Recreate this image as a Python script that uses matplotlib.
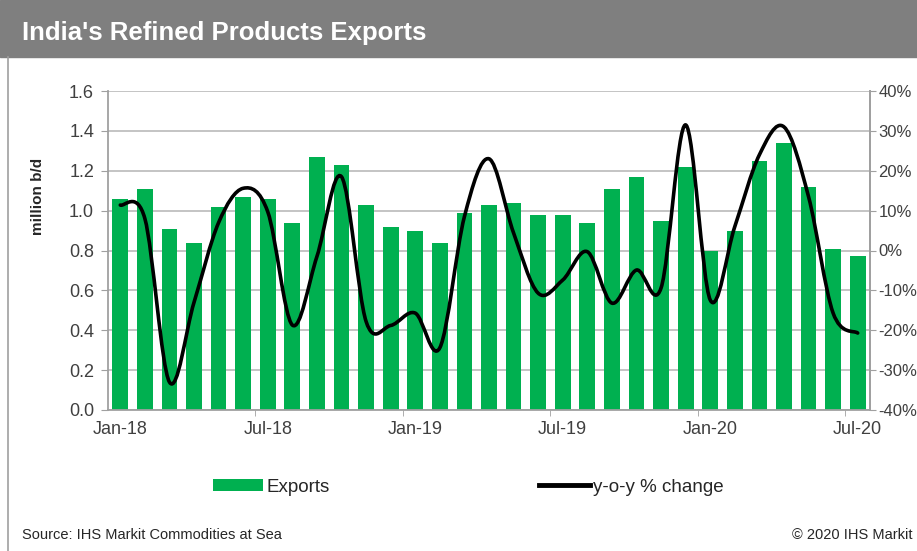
import numpy as np
import matplotlib
matplotlib.use("Agg")
import matplotlib.pyplot as plt
from matplotlib.path import Path
from matplotlib.patches import PathPatch, Patch, Rectangle
from matplotlib.lines import Line2D
from matplotlib.ticker import FuncFormatter

plt.rcParams["font.family"] = ["Liberation Sans", "DejaVu Sans"]

# Monthly exports (million b/d) and y-o-y change (%), Jan-18 .. Jul-20
months = ["Jan-18", "Feb-18", "Mar-18", "Apr-18", "May-18", "Jun-18",
          "Jul-18", "Aug-18", "Sep-18", "Oct-18", "Nov-18", "Dec-18",
          "Jan-19", "Feb-19", "Mar-19", "Apr-19", "May-19", "Jun-19",
          "Jul-19", "Aug-19", "Sep-19", "Oct-19", "Nov-19", "Dec-19",
          "Jan-20", "Feb-20", "Mar-20", "Apr-20", "May-20", "Jun-20",
          "Jul-20"]
exports = [1.06, 1.11, 0.91, 0.84, 1.02, 1.07, 1.06, 0.94, 1.27, 1.23,
           1.03, 0.92, 0.90, 0.84, 0.99, 1.03, 1.04, 0.98, 0.98, 0.94,
           1.11, 1.17, 0.95, 1.22, 0.80, 0.90, 1.25, 1.34, 1.12, 0.81,
           0.77]
yoy = [11.4, 8.0, -33.0, -13.0, 7.0, 15.6, 9.7, -18.7, -1.5, 18.5,
       -17.8, -18.8, -15.7, -24.4, 8.5, 23.0, 4.4, -10.7, -7.4, -0.3,
       -13.2, -4.9, -9.4, 31.5, -12.4, 6.0, 24.0, 31.0, 13.5, -15.7,
       -20.7]
label_months = ["Jan-18", "Jul-18", "Jan-19", "Jul-19", "Jan-20", "Jul-20"]

green = "#00b050"
grid_grey = "#bfbfbf"
text_grey = "#404040"

fig = plt.figure(figsize=(9.17, 5.51), dpi=100)

# header band + left frame line
fig.patches.append(Rectangle((0, 1 - 57 / 551), 1, 57 / 551, transform=fig.transFigure,
                             color="#7f7f7f", zorder=0))
fig.add_artist(Line2D([8 / 917, 8 / 917], [0, 1 - 57 / 551], transform=fig.transFigure,
                      color="#a0a0a0", lw=1.2))
fig.text(22 / 917, 1 - 33 / 551, "India's Refined Products Exports", color="white",
         fontsize=18.5, fontweight="bold", va="center", ha="left")

ax = fig.add_axes([108 / 917, 1 - 410 / 551, 762 / 917, 319 / 551])
x = np.arange(len(months))
ax.bar(x, exports, width=0.64, color=green, zorder=2)
ax.set_xlim(-0.5, len(months) - 0.5)
ax.set_ylim(0, 1.6)
ax.set_yticks(np.arange(0, 1.61, 0.2))
ax.yaxis.set_major_formatter(FuncFormatter(lambda v, _: f"{v:.1f}"))
ax.set_axisbelow(True)
ax.grid(axis="y", color=grid_grey, lw=1.3)
ax.set_xticks([months.index(m) for m in label_months])
ax.set_xticklabels(label_months)
ax.set_xticks([months.index(m) - 0.5 for m in label_months[1:]], minor=True)
ax.tick_params(axis="x", which="major", length=0, pad=8, labelsize=13, labelcolor=text_grey)
ax.tick_params(axis="x", which="minor", length=4, color="#a0a0a0", direction="out")
ax.tick_params(axis="y", length=5, color="#a0a0a0", labelsize=13, labelcolor=text_grey, pad=5)
ax.spines["top"].set_visible(False)
for s in ["left", "bottom", "right"]:
    ax.spines[s].set_color("#a0a0a0")
    ax.spines[s].set_linewidth(1.3)
fig.text(38 / 917, 1 - 196 / 551, "million b/d", rotation=90, fontsize=11,
         fontweight="bold", color="#262626", ha="center", va="center")

ax2 = ax.twinx()
ax2.set_ylim(-40, 40)
ax2.set_yticks(np.arange(-40, 41, 10))
ax2.yaxis.set_major_formatter(FuncFormatter(lambda v, _: f"{v:.0f}%"))
ax2.tick_params(axis="y", length=4, color="#a0a0a0", labelsize=12, labelcolor=text_grey, pad=2)
for s in ["top", "left", "bottom"]:
    ax2.spines[s].set_visible(False)
ax2.spines["right"].set_color("#a0a0a0")
ax2.spines["right"].set_linewidth(1.3)

# smoothed y-o-y line as cubic Bezier segments (Catmull-Rom control points)
pts = np.column_stack([x, yoy]).astype(float)
ext = np.vstack([pts[0], pts, pts[-1]])
verts = [pts[0]]
codes = [Path.MOVETO]
for i in range(len(pts) - 1):
    p0, p1, p2, p3 = ext[i], ext[i + 1], ext[i + 2], ext[i + 3]
    verts += [p1 + (p2 - p0) / 6, p2 - (p3 - p1) / 6, p2]
    codes += [Path.CURVE4] * 3
ax2.add_patch(PathPatch(Path(verts, codes), fill=False, edgecolor="black", lw=2.6,
                        capstyle="round", joinstyle="round", zorder=3))

handles = [Patch(facecolor=green, edgecolor="none"),
           Line2D([], [], color="black", lw=3.5)]
fig.legend(handles, ["Exports", "y-o-y % change"], loc="center",
           bbox_to_anchor=(468 / 917, 1 - 487 / 551), ncol=2, frameon=False,
           fontsize=13.5, handlelength=2.7, handleheight=0.55, handletextpad=0.15,
           columnspacing=11.2, labelcolor="#262626")

fig.text(22 / 917, 1 - 535 / 551, "Source: IHS Markit Commodities at Sea", fontsize=10.5,
         color="#262626", va="center", ha="left")
fig.text(912 / 917, 1 - 535 / 551, "\u00a9 2020 IHS Markit", fontsize=10.5,
         color="#262626", va="center", ha="right")

fig.savefig("out.png", dpi=100)
